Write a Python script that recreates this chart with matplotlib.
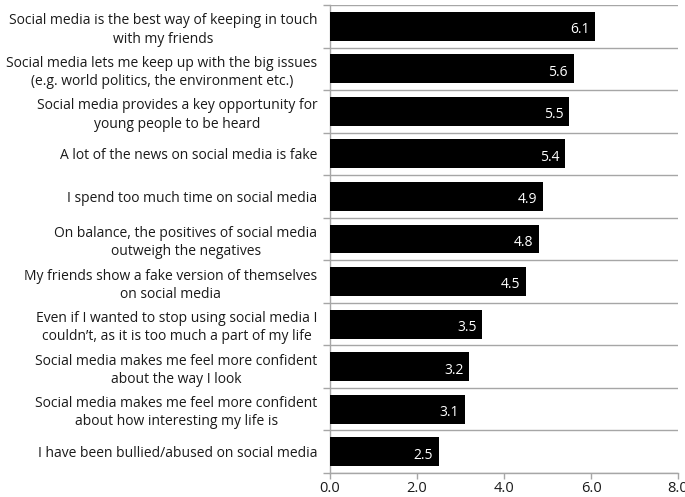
import numpy as np
import matplotlib.pyplot as plt

plt.rcParams['font.family'] = ['Open Sans', 'DejaVu Sans']

statements = [
    "Social media is the best way of keeping in touch\nwith my friends",
    "Social media lets me keep up with the big issues\n(e.g. world politics, the environment etc.)",
    "Social media provides a key opportunity for\nyoung people to be heard",
    "A lot of the news on social media is fake",
    "I spend too much time on social media",
    "On balance, the positives of social media\noutweigh the negatives",
    "My friends show a fake version of themselves\non social media",
    "Even if I wanted to stop using social media I\ncouldn\u2019t, as it is too much a part of my life",
    "Social media makes me feel more confident\nabout the way I look",
    "Social media makes me feel more confident\nabout how interesting my life is",
    "I have been bullied/abused on social media",
]
scores = [6.1, 5.6, 5.5, 5.4, 4.9, 4.8, 4.5, 3.5, 3.2, 3.1, 2.5]
xticks = [0, 2, 4, 6, 8]

grey = '#a6a6a6'
ink = '#1a1a1a'

fig = plt.figure(figsize=(6.85, 4.97), dpi=100)
ax = fig.add_axes([330 / 685, 24 / 497, 348 / 685, 468 / 497])

y = np.arange(len(scores))
ax.barh(y, scores, height=0.68, color='black', zorder=3)
for yi, v in zip(y, scores):
    ax.text(v - 0.13, yi + 0.08, f'{v:.1f}', color='white', ha='right', va='center',
            fontsize=10, zorder=4)

ax.set_ylim(len(scores) - 0.5, -0.5)
ax.set_xlim(0, 8)

ax.set_yticks(y)
ax.set_yticklabels(statements, fontsize=10, multialignment='center',
                   linespacing=1.3, color=ink)
ax.set_yticks(np.arange(len(scores) + 1) - 0.5, minor=True)
ax.tick_params(axis='y', which='major', length=0, pad=9)
ax.tick_params(axis='y', which='minor', length=5, color=grey, width=1)
ax.grid(axis='y', which='minor', color=grey, linewidth=1, zorder=0)

ax.set_xticks(xticks)
ax.set_xticklabels([f'{t:.1f}' for t in xticks], fontsize=10.5, color=ink)
ax.tick_params(axis='x', length=4, color=grey, width=1, pad=2)

for side in ['top', 'right']:
    ax.spines[side].set_visible(False)
for side in ['left', 'bottom']:
    ax.spines[side].set_color(grey)
    ax.spines[side].set_linewidth(1)

fig.savefig('out.png', dpi=100)
